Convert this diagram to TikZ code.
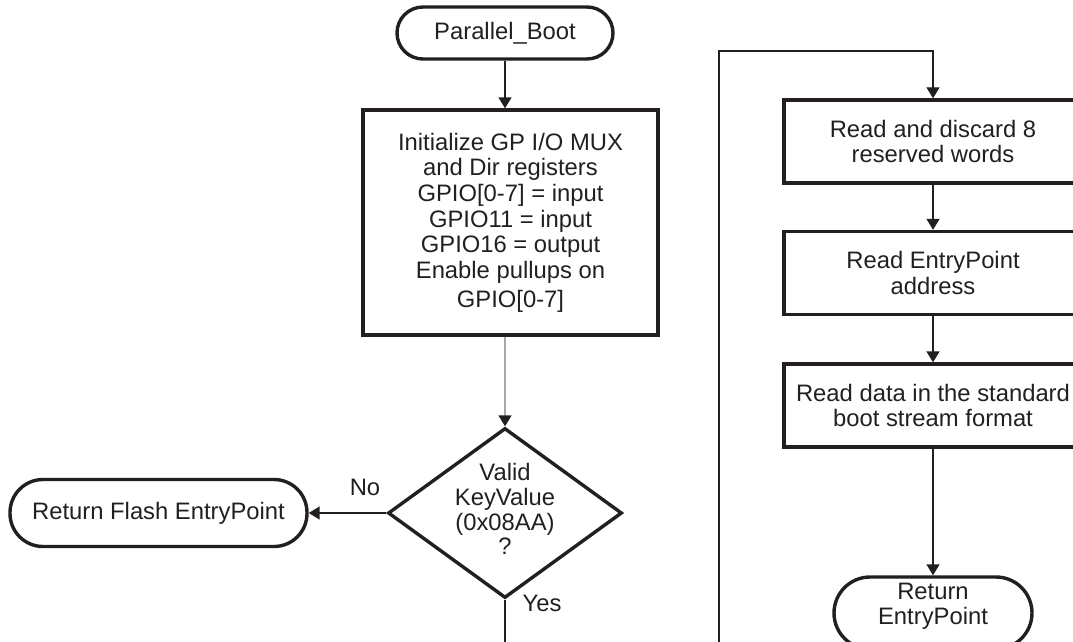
\documentclass[tikz,border=0pt]{standalone}
\usepackage{fontspec}
\setmainfont{Liberation Sans}
\usetikzlibrary{arrows.meta,shapes.geometric}
\definecolor{ink}{HTML}{231F20}
\definecolor{lightline}{HTML}{A8A8A8}
\begin{document}
\begin{tikzpicture}[x=1pt,y=-1pt,
  base/.style={draw=ink, line width=3.4pt, text=ink, font=\fontsize{23.8}{25.7}\selectfont, align=center, inner sep=0pt},
  procbox/.style={base, rectangle},
  decbox/.style={base, diamond, minimum width=234pt, minimum height=170pt},
  txt/.style={text=ink, font=\fontsize{23.8}{24.8}\selectfont, align=center, inner sep=0pt},
  tip/.style={-{Triangle[width=13pt,length=11pt,color=ink]}},
  conn/.style={draw=ink, line width=1.5pt, tip},
  plainline/.style={draw=ink, line width=1.5pt}
]
\useasboundingbox (0,0) rectangle (1073,641);
\clip (0,0) rectangle (1073,641);

% left column
\node[base, rounded corners=26pt, minimum width=216pt, minimum height=52pt] (pb) at (505,33) {Parallel\_Boot};
\node[procbox, minimum width=295pt, minimum height=225pt] (init) at (510.5,222.5)
  {Initialize GP I/O MUX\\ and Dir registers\\ GPIO[0-7] = input\\ GPIO11 = input\\ GPIO16 = output\\ Enable pullups on\\[3pt] GPIO[0-7]};
\node[decbox] (dia) at (505,513) {};
\node[txt] (diatext) at (505,509) {Valid\\KeyValue\\(0x08AA)\\?};
\node[base, rounded corners=33pt, minimum width=297pt, minimum height=67pt] (flash) at (158.5,513) {Return Flash EntryPoint};
\node[txt] (no) at (365,487) {No};
\node[txt] (yes) at (542,603) {Yes};
\coordinate (yesend) at (505,650);

% right column
\node[procbox, minimum width=298pt, minimum height=83pt] (b1) at (933,141.5) {Read and discard 8\\reserved words};
\node[procbox, minimum width=298pt, minimum height=83pt] (b2) at (933,273) {Read EntryPoint\\address};
\node[procbox, minimum width=298pt, minimum height=83pt] (b3) at (933,405.5) {Read data in the standard\\boot stream format};
\node[base, rounded corners=36pt, minimum width=198pt, minimum height=72pt] (ret) at (933,613) {};
\node[txt] (rettext) at (933,606.5) {Return\\EntryPoint};
\coordinate (loopend) at (719,650);
\coordinate (looptop) at (719,51);

% connectors
\draw[conn] (pb.south) -- (pb.south |- init.north);
\draw[draw=lightline, line width=1.5pt, tip] (init.south -| dia.north) -- (dia.north);
\draw[conn] (dia.west) -- (flash.east);
\draw[plainline] (dia.south) -- (yesend);
\draw[conn] (b1.south) -- (b2.north);
\draw[conn] (b2.south) -- (b3.north);
\draw[conn] (b3.south) -- (ret.north);
\draw[conn, line width=1.2pt] (loopend) -- (looptop) -| (b1.north);
\end{tikzpicture}
\end{document}
